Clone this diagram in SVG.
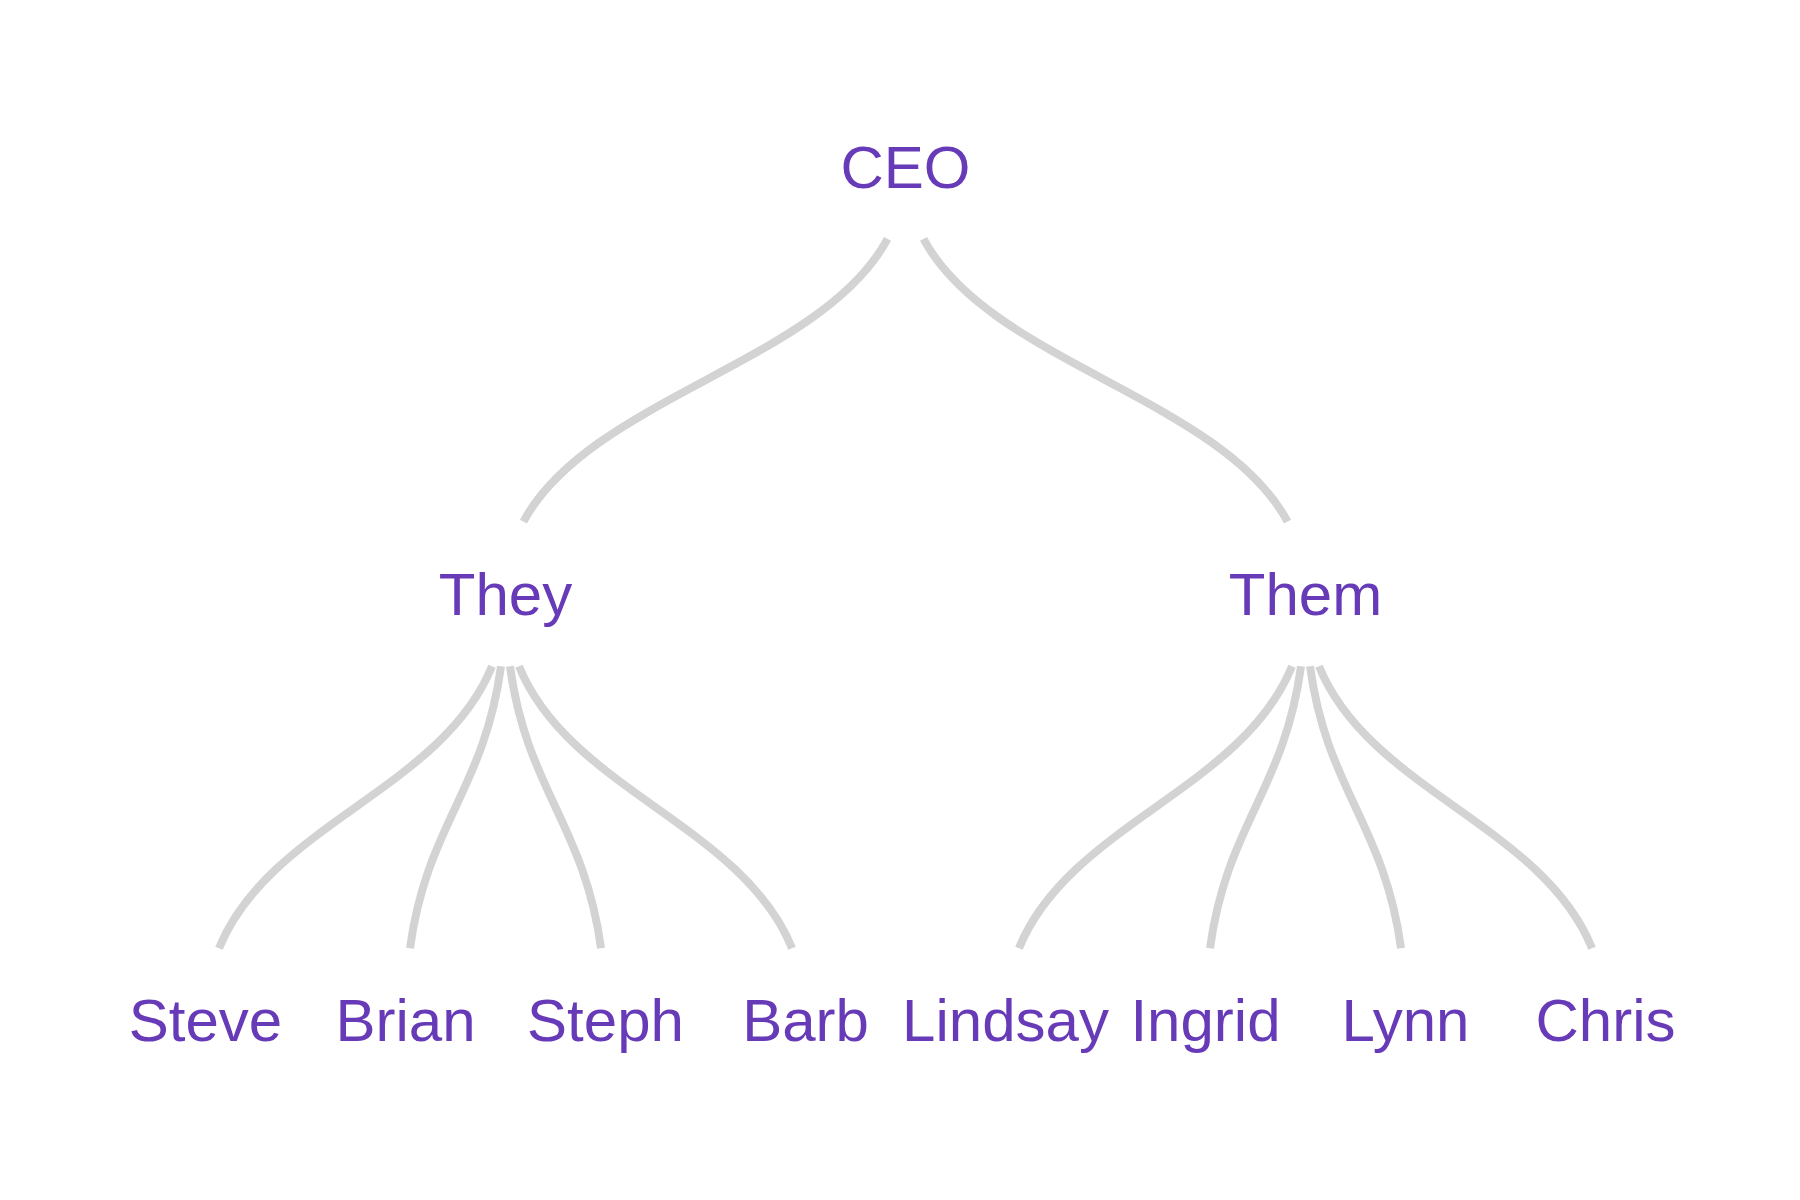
<svg xmlns="http://www.w3.org/2000/svg" width="1800" height="1200" viewBox="0 0 1800 1200">
  <style>
    .link { fill: none; stroke: #d3d3d3; stroke-width: 8; stroke-linecap: butt; }
    .label { font-family: "Liberation Sans", Arial, sans-serif; font-size: 60px; fill: #673ab7; text-anchor: middle; }
  </style>
  <rect width="1800" height="1200" fill="#ffffff"/>
  <g id="connectors">
    <path class="link" d="M887.52,238.97 C821.08,362.5 589.92,398 523.48,521.53"/>
    <path class="link" d="M923.48,238.97 C989.92,362.5 1221.08,398 1287.52,521.53"/>
    <path class="link" d="M492.01,666.3 C442.19,789.54 268.81,824.96 218.99,948.2"/>
    <path class="link" d="M501,666.3 C484.4,789.54 426.6,824.96 410,948.2"/>
    <path class="link" d="M510,666.3 C526.6,789.54 584.4,824.96 601,948.2"/>
    <path class="link" d="M518.99,666.3 C568.81,789.54 742.19,824.96 792.01,948.2"/>
    <path class="link" d="M1292.01,666.3 C1242.19,789.54 1068.81,824.96 1018.99,948.2"/>
    <path class="link" d="M1301,666.3 C1284.4,789.54 1226.6,824.96 1210,948.2"/>
    <path class="link" d="M1310,666.3 C1326.6,789.54 1384.4,824.96 1401,948.2"/>
    <path class="link" d="M1318.99,666.3 C1368.81,789.54 1542.19,824.96 1592.01,948.2"/>
  </g>
  <g id="node-ceo"><text class="label" x="905.5" y="188">CEO</text></g>
  <g id="node-they"><text class="label" x="505.5" y="615">They</text></g>
  <g id="node-them"><text class="label" x="1305.5" y="615">Them</text></g>
  <g id="node-steve"><text class="label" x="205.5" y="1041">Steve</text></g>
  <g id="node-brian"><text class="label" x="405.5" y="1041">Brian</text></g>
  <g id="node-steph"><text class="label" x="605.5" y="1041">Steph</text></g>
  <g id="node-barb"><text class="label" x="805.5" y="1041">Barb</text></g>
  <g id="node-lindsay"><text class="label" x="1005.5" y="1041">Lindsay</text></g>
  <g id="node-ingrid"><text class="label" x="1205.5" y="1041">Ingrid</text></g>
  <g id="node-lynn"><text class="label" x="1405.5" y="1041">Lynn</text></g>
  <g id="node-chris"><text class="label" x="1605.5" y="1041">Chris</text></g>
</svg>
